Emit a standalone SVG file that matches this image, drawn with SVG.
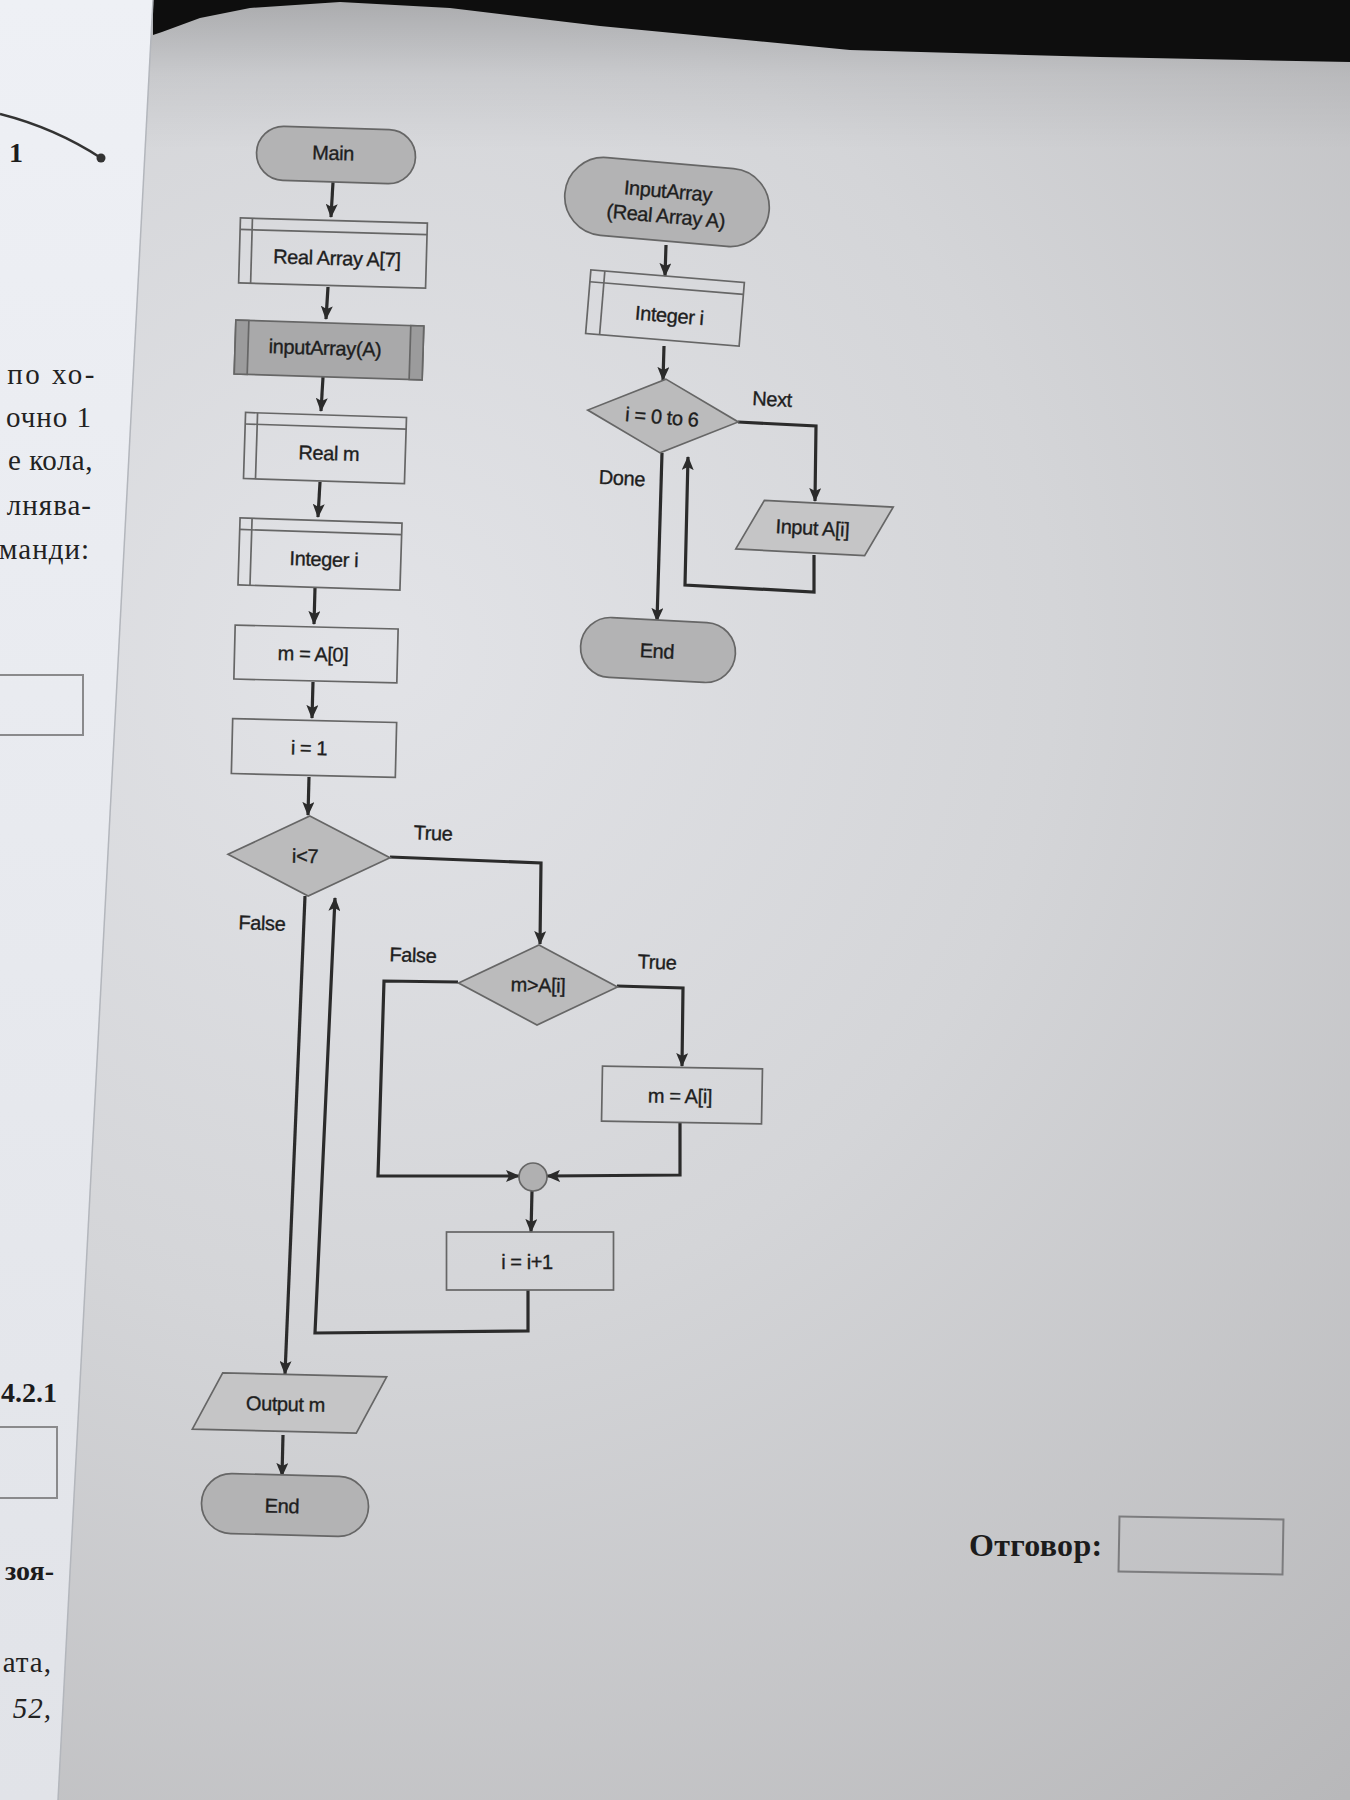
<svg xmlns="http://www.w3.org/2000/svg" width="1350" height="1800" viewBox="0 0 1350 1800">
  <defs>
    <radialGradient id="pageShade" cx="380" cy="650" r="1500" gradientUnits="userSpaceOnUse">
      <stop offset="0" stop-color="#e2e3e7"/>
      <stop offset="0.45" stop-color="#d4d5d8"/>
      <stop offset="1" stop-color="#b8b8ba"/>
    </radialGradient>
    <linearGradient id="topShade" x1="0" y1="0" x2="0" y2="150" gradientUnits="userSpaceOnUse">
      <stop offset="0" stop-color="#000" stop-opacity="0.2"/>
      <stop offset="0.5" stop-color="#000" stop-opacity="0.06"/>
      <stop offset="1" stop-color="#000" stop-opacity="0"/>
    </linearGradient>
    <linearGradient id="leftPage" x1="0" y1="0" x2="0" y2="1800" gradientUnits="userSpaceOnUse">
      <stop offset="0" stop-color="#eef0f5"/>
      <stop offset="1" stop-color="#e1e3e8"/>
    </linearGradient>
    <marker id="arrow" viewBox="0 0 14 12" refX="13" refY="6" markerWidth="14" markerHeight="12" markerUnits="userSpaceOnUse" orient="auto">
      <path d="M0,0 L14,6 L0,12 L3,6 z" fill="#2b2b2b"/>
    </marker>
    <style>
      .flow { fill: none; stroke: #2b2b2b; stroke-width: 3.2; stroke-linejoin: miter; }
      .edge { stroke: #666; stroke-width: 1.7; }
      .term { fill: #b3b3b4; }
      .decl { fill: none; }
      .call { fill: #a9a9aa; }
      .bar { fill: #9b9b9c; }
      .proc { fill: none; }
      .dec { fill: #bbbbbc; }
      .io { fill: #c5c5c6; }
      .join { fill: #b0b0b1; }
      .lbl { font-family: "Liberation Sans", Arial, sans-serif; font-size: 20px; fill: #1e1e1e; stroke: #1e1e1e; stroke-width: 0.35px; text-anchor: middle; letter-spacing: -0.4px; }
      .book { font-family: "Liberation Serif", "Times New Roman", serif; font-size: 29px; fill: #222; text-anchor: end; letter-spacing: 1px; }
      .bookb { font-family: "Liberation Serif", "Times New Roman", serif; font-size: 28px; font-weight: bold; fill: #1c1c1c; }
    </style>
  </defs>

  <!-- right-hand page -->
  <rect x="0" y="0" width="1350" height="1800" fill="url(#pageShade)"/>
  <rect x="0" y="0" width="1350" height="150" fill="url(#topShade)"/>

  <!-- dark background above the page edge -->
  <path d="M153,0 L1350,0 L1350,62 L1100,57 L850,50 L600,26 L450,8 L340,2 L250,8 L200,18 L162,32 L153,35 Z" fill="#0e0e0e"/>

  <!-- left-hand page -->
  <g id="left-page">
    <path d="M0,0 L153,0 L58,1800 L0,1800 Z" fill="url(#leftPage)"/>
    <line x1="153" y1="0" x2="58" y2="1800" stroke="#b3b6bc" stroke-width="1.5"/>
    <path d="M0,114 Q55,128 101,158" fill="none" stroke="#333" stroke-width="2.5"/>
    <circle cx="101" cy="158" r="4.5" fill="#333"/>
    <text x="16" y="162" class="bookb" text-anchor="middle">1</text>
    <text x="97" y="384" class="book" style="letter-spacing:2.5px">по хо-</text>
    <text x="92" y="427" class="book">очно 1</text>
    <text x="93" y="470" class="book" style="letter-spacing:0.5px">е кола,</text>
    <text x="92" y="515" class="book">лнява-</text>
    <text x="90" y="559" class="book">манди:</text>
    <rect x="-6" y="675" width="89" height="60" fill="none" stroke="#8a8a8c" stroke-width="2"/>
    <text x="57" y="1402" class="bookb" text-anchor="end">4.2.1</text>
    <rect x="-6" y="1427" width="63" height="71" fill="none" stroke="#8a8a8c" stroke-width="2"/>
    <text x="54" y="1580" class="bookb" text-anchor="end">зоя-</text>
    <text x="52" y="1672" class="book">ата,</text>
    <text x="52" y="1718" class="book" font-style="italic">52,</text>
  </g>

  <!-- answer field -->
  <g id="answer">
    <text x="969" y="1556" class="bookb" style="font-size:32px; letter-spacing:0.3px">Отговор:</text>
    <rect x="1119" y="1518" width="164" height="55" fill="none" stroke="#7c7c7e" stroke-width="2" transform="rotate(1 1201 1545)"/>
  </g>

  <!-- connectors -->
  <g id="connectors">
    <polyline class="flow" points="333,182 331,217" marker-end="url(#arrow)"/>
    <polyline class="flow" points="328,287 326,319" marker-end="url(#arrow)"/>
    <polyline class="flow" points="323,377 321,411" marker-end="url(#arrow)"/>
    <polyline class="flow" points="320,482 318,517" marker-end="url(#arrow)"/>
    <polyline class="flow" points="315,588 314,624" marker-end="url(#arrow)"/>
    <polyline class="flow" points="313,682 312,718" marker-end="url(#arrow)"/>
    <polyline class="flow" points="309,777 308,815" marker-end="url(#arrow)"/>
    <polyline class="flow" points="390,857 541,863 540,944" marker-end="url(#arrow)"/>
    <polyline class="flow" points="617,986 683,988 682,1066" marker-end="url(#arrow)"/>
    <polyline class="flow" points="458,982 384,981 378,1176 519,1176" marker-end="url(#arrow)"/>
    <polyline class="flow" points="680,1122 680,1175 547,1176" marker-end="url(#arrow)"/>
    <polyline class="flow" points="532,1191 531,1232" marker-end="url(#arrow)"/>
    <polyline class="flow" points="528,1290 528,1331 315,1333 335,898" marker-end="url(#arrow)"/>
    <polyline class="flow" points="305,896 285,1374" marker-end="url(#arrow)"/>
    <polyline class="flow" points="283,1435 282,1476" marker-end="url(#arrow)"/>

    <polyline class="flow" points="666,245 665,276" marker-end="url(#arrow)"/>
    <polyline class="flow" points="664,346 663,380" marker-end="url(#arrow)"/>
    <polyline class="flow" points="738,422 816,426 815,501" marker-end="url(#arrow)"/>
    <polyline class="flow" points="814,555 814,592 685,585 688,457" marker-end="url(#arrow)"/>
    <polyline class="flow" points="662,453 657,621" marker-end="url(#arrow)"/>

    <text class="lbl" x="433" y="840" transform="rotate(2 433 833)">True</text>
    <text class="lbl" x="262" y="930" transform="rotate(2 262 923)">False</text>
    <text class="lbl" x="413" y="962" transform="rotate(2 413 955)">False</text>
    <text class="lbl" x="657" y="969" transform="rotate(2 657 962)">True</text>
    <text class="lbl" x="772" y="406" transform="rotate(3 772 399)">Next</text>
    <text class="lbl" x="622" y="485" transform="rotate(3 622 478)">Done</text>
  </g>

  <!-- main program -->
  <g id="main" transform="translate(336 155) rotate(1.8)">
    <rect class="term edge" x="-79.5" y="-27" width="159" height="54" rx="27"/>
    <text class="lbl" x="-3" y="5">Main</text>
  </g>

  <g id="decl-array" transform="translate(333 253) rotate(1.6)">
    <rect class="decl edge" x="-93.5" y="-32.5" width="187" height="65"/>
    <line class="edge" x1="-81.5" y1="-32.5" x2="-81.5" y2="32.5"/>
    <line class="edge" x1="-93.5" y1="-21" x2="93.5" y2="-21"/>
    <text class="lbl" x="4" y="12">Real Array A[7]</text>
  </g>

  <g id="call-input" transform="translate(329 350) rotate(1.8)">
    <rect class="call edge" x="-94" y="-27" width="188" height="54"/>
    <rect class="bar edge" x="-94" y="-27" width="13" height="54"/>
    <rect class="bar edge" x="81" y="-27" width="13" height="54"/>
    <text class="lbl" x="-4" y="5">inputArray(A)</text>
  </g>

  <g id="decl-m" transform="translate(325 448) rotate(1.8)">
    <rect class="decl edge" x="-80.5" y="-33" width="161" height="66"/>
    <line class="edge" x1="-68.5" y1="-33" x2="-68.5" y2="33"/>
    <line class="edge" x1="-80.5" y1="-21.5" x2="80.5" y2="-21.5"/>
    <text class="lbl" x="4" y="12">Real m</text>
  </g>

  <g id="decl-i" transform="translate(320 554) rotate(1.8)">
    <rect class="decl edge" x="-81" y="-33.5" width="162" height="67"/>
    <line class="edge" x1="-69" y1="-33.5" x2="-69" y2="33.5"/>
    <line class="edge" x1="-81" y1="-22" x2="81" y2="-22"/>
    <text class="lbl" x="4" y="12">Integer i</text>
  </g>

  <g id="set-m" transform="translate(316 654) rotate(1.4)">
    <rect class="proc edge" x="-81.5" y="-27" width="163" height="54"/>
    <text class="lbl" x="-3" y="7">m = A[0]</text>
  </g>

  <g id="set-i" transform="translate(314 748) rotate(1.4)">
    <rect class="proc edge" x="-82" y="-27.5" width="164" height="55"/>
    <text class="lbl" x="-5" y="7">i = 1</text>
  </g>

  <g id="test-i" transform="translate(309 856) rotate(1.2)">
    <polygon class="dec edge" points="0,-40 81,0 0,40 -81,0"/>
    <text class="lbl" x="-4" y="7">i&lt;7</text>
  </g>

  <g id="test-m" transform="translate(538 985) rotate(1.4)">
    <polygon class="dec edge" points="0,-40 79.5,0 0,40 -79.5,0"/>
    <text class="lbl" x="0" y="7">m&gt;A[i]</text>
  </g>

  <g id="update-m" transform="translate(682 1095) rotate(1)">
    <rect class="proc edge" x="-80" y="-27.5" width="160" height="55"/>
    <text class="lbl" x="-2" y="8">m = A[i]</text>
  </g>

  <g id="merge" transform="translate(533 1177)">
    <circle class="join edge" r="14"/>
  </g>

  <g id="increment" transform="translate(530 1261)">
    <rect class="proc edge" x="-83.5" y="-29" width="167" height="58"/>
    <text class="lbl" x="-3" y="8">i = i+1</text>
  </g>

  <g id="output-m" transform="translate(289.5 1403) rotate(1.4)">
    <polygon class="io edge" points="-67.5,-28.5 96.5,-28.5 67.5,28.5 -96.5,28.5"/>
    <text class="lbl" x="-4" y="8">Output m</text>
  </g>

  <g id="end-main" transform="translate(285 1505) rotate(1.5)">
    <rect class="term edge" x="-83.5" y="-30" width="167" height="60" rx="30"/>
    <text class="lbl" x="-3" y="8">End</text>
  </g>

  <!-- input procedure -->
  <g id="proc-input" transform="translate(667 202) rotate(5)">
    <rect class="term edge" x="-102.5" y="-39" width="205" height="78" rx="39"/>
    <text class="lbl" x="0" y="-4">InputArray</text>
    <text class="lbl" x="0" y="21">(Real Array A)</text>
  </g>

  <g id="proc-decl-i" transform="translate(665 308) rotate(4.7)">
    <rect class="decl edge" x="-77" y="-32" width="154" height="64"/>
    <line class="edge" x1="-63" y1="-32" x2="-63" y2="32"/>
    <line class="edge" x1="-77" y1="-20" x2="77" y2="-20"/>
    <text class="lbl" x="5" y="14">Integer i</text>
  </g>

  <g id="proc-loop" transform="translate(663 416) rotate(4.5)">
    <polygon class="dec edge" points="0,-37 75.5,0 0,37 -75.5,0"/>
    <text class="lbl" x="-1" y="8">i = 0 to 6</text>
  </g>

  <g id="proc-read" transform="translate(814.5 528) rotate(3)">
    <polygon class="io edge" points="-51.5,-25 77.5,-25 51.5,25 -77.5,25"/>
    <text class="lbl" x="-2" y="7">Input A[i]</text>
  </g>

  <g id="proc-end" transform="translate(658 650) rotate(3)">
    <rect class="term edge" x="-77.5" y="-30" width="155" height="60" rx="30"/>
    <text class="lbl" x="-1" y="8">End</text>
  </g>
</svg>
